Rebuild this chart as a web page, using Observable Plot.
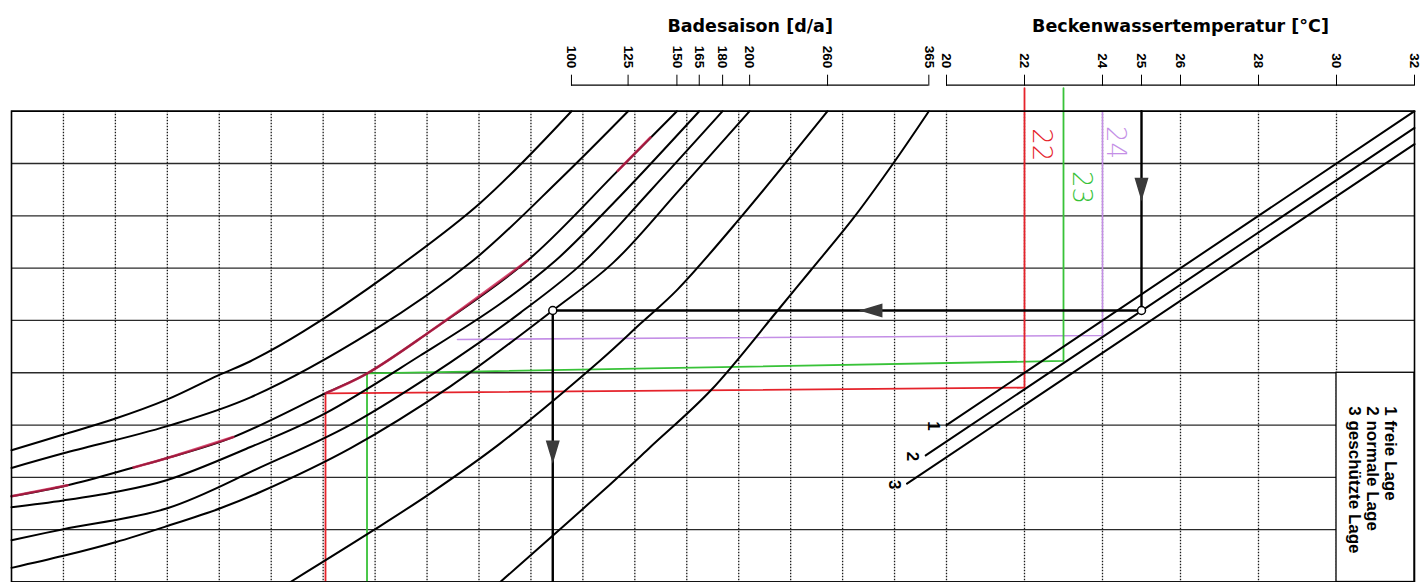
<!DOCTYPE html>
<html>
<head>
<meta charset="utf-8">
<script src="https://cdn.jsdelivr.net/npm/d3@7"></script>
<script src="https://cdn.jsdelivr.net/npm/@observablehq/plot@0.6"></script>
<style>
  html, body { margin: 0; padding: 0; background: #fff; }
  #chart svg { display: block; }
</style>
</head>
<body>
<div id="chart"></div>
<script>
// ---------------- data ----------------
// x: left part in grid units (2..20), right part in °C (20..32); y: grid units 0..9
const seasonDays = [100, 125, 150, 165, 180, 200, 260, 365];

const curve100 = [[2,2.52],[3,2.82],[3.96,3.11],[5,3.49],[5.98,3.95],[6.6,4.22],[7.62,4.79],[9.3,5.92],[11.03,7.25],[12.78,9]];
const curve125 = [[2,2.18],[3,2.46],[5,2.98],[6.6,3.53],[8.97,4.81],[10.88,6.14],[12.57,7.71],[13.87,9]];
const curve150 = [[2,1.64],[3.08,1.85],[4.35,2.19],[5,2.37],[6.27,2.77],[8.05,3.61],[8.85,3.99],[10.03,4.77],[11.93,6.14],[13.67,7.86],[14.81,9]];
const curve165 = [[2,1.43],[3,1.56],[4,1.72],[5,1.95],[6.6,2.58],[8.03,3.22],[9.87,4.33],[11.41,5.32],[12.47,6.14],[13.72,7.38],[15.24,9]];
const curve180 = [[2,0.8],[3,1.01],[5,1.41],[6.79,2.19],[8.53,3.01],[10.45,4.2],[11.8,5.15],[13.01,6.11],[14.3,7.48],[15.69,9]];
const curve200 = [[2,0.27],[3,0.5],[4,0.76],[5,1.07],[6.02,1.41],[6.79,1.72],[8.53,2.56],[10.45,3.74],[12.42,5.19],[13.59,6.11],[14.88,7.52],[16.21,9]];
const curve260 = [[7.37,0],[8.97,0.99],[10.07,1.7],[11.41,2.65],[13.34,4.24],[14.11,4.94],[14.82,5.59],[16.03,6.96],[17.71,9]];
const curve365 = [[11.41,0],[13.34,1.7],[14.3,2.58],[15.46,3.66],[16.75,5.19],[17.38,5.95],[18.21,6.96],[18.98,8.01],[19.66,9]];

const tempTicks = [20, 22, 24, 25, 26, 28, 30, 32];
const gridLeft = [3,4,5,6,7,8,9,10,11,12,13,14,15,16,17,18,19,20];
const gridTemp = [22, 24, 26, 28, 30];
const gridY = [0,1,2,3,4,5,6,7,8,9];

// location lines 1..3 (start, end)
const locationIds = ["1", "2", "3"];
const location1 = [[20, 3.0], [32, 9.0]];
const location2 = [[19.6, 2.42], [32, 8.68]];
const location3 = [[19.24, 1.88], [32, 8.37]];
const legendLines = ["1 freie Lage", "2 normale Lage", "3 geschützte Lage"];
const legendBox = [{x1: 30, x2: 32, y1: 0, y2: 4}];

// reading example (black) and hand-drawn readings (22, 23, 24 °C)
const examplePath = [[25, 9], [25, 5.19], [12.42, 5.19], [12.42, 0]];
const exampleCircles = [[25, 5.19], [12.42, 5.19]];
const exampleArrows = [{x: 25, y: 7.52, dir: "down"}, {x: 18.56, y: 5.19, dir: "left"}, {x: 12.42, y: 2.5, dir: "down"}];
const path22 = [[22, 9.44], [22, 3.715], [8.045, 3.606], [8.045, 0]];
const path23 = [[23, 9.44], [23, 4.226], [8.844, 3.988], [8.844, 0]];
const path24 = [[24, 9], [24, 4.713], [10.586, 4.637]];
const handNotes = [{x: 22.44, y: 8.36, text: "22", c: "red"}, {x: 23.46, y: 7.54, text: "23", c: "green"}, {x: 24.33, y: 8.4, text: "24", c: "purple"}];
const highlight150 = [
  [[2,1.64],[3.08,1.85]],
  [[4.35,2.19],[5,2.37],[6.27,2.77]],
  [[8.05,3.61],[8.85,3.99],[10.03,4.77],[11.93,6.14]],
  [[13.67,7.86],[14.3,8.5]]
];

// ---------------- derived tables ----------------
const yDomain = [0, 9];
const seasonCurves = [curve100, curve125, curve150, curve165, curve180, curve200, curve260, curve365];
const curveRows = seasonDays.flatMap((days, i) => seasonCurves[i].map(([x, y]) => ({days, x, y})));
const seasonTickPos = seasonCurves.map(c => c[c.length - 1][0]);
const dayAt = new Map(seasonTickPos.map((p, i) => [p, seasonDays[i]]));
const locationRows = [location1, location2, location3].flatMap((pts, i) => pts.map(([x, y]) => ({id: locationIds[i], x, y})));
const locationStarts = [location1, location2, location3].map((pts, i) => ({id: locationIds[i], x: pts[0][0], y: pts[0][1]}));
const highlightRows = highlight150.flatMap((seg, i) => seg.map(([x, y]) => ({seg: i, x, y})));
const handColor = {red: "#e5232b", green: "#38c238", purple: "#c48fe6"};
const titles = [
  {text: "Badesaison [d/a]", x: (seasonTickPos[0] + seasonTickPos[seasonTickPos.length - 1]) / 2},
  {text: "Beckenwassertemperatur [°C]", x: (tempTicks[0] + tempTicks[tempTicks.length - 1]) / 2}
];
const baselines = [
  {a: seasonTickPos[0], b: seasonTickPos[seasonTickPos.length - 1]},
  {a: tempTicks[0], b: tempTicks[tempTicks.length - 1]}
];

const arrowHead = {
  draw(ctx, size) {
    const r = Math.sqrt(size / Math.PI);
    ctx.moveTo(0, r);
    ctx.lineTo(r * 0.6, -r);
    ctx.lineTo(-r * 0.6, -r);
    ctx.closePath();
  }
};
const px = d => d[0], py = d => d[1];
const axisStyle = {anchor: "top", label: null, tickSize: 11, tickPadding: 6, dy: -26, tickRotate: 90,
  textAnchor: "end", lineAnchor: "middle", fontSize: 13.5, fontWeight: "bold"};

const chart = Plot.plot({
  width: 1423,
  height: 582,
  marginTop: 110.7,
  marginBottom: 0.5,
  marginLeft: 11,
  marginRight: 9,
  x: {type: "linear", domain: [2, 20, 32], range: [11, 946, 1414], axis: null},
  y: {domain: yDomain, range: [581.5, 110.7], axis: null},
  style: {fontFamily: "'Liberation Sans', Arial, sans-serif", background: "#fff", color: "#000", overflow: "visible"},
  marks: [
    // grid
    Plot.ruleY(gridY, {stroke: "#2a2a2a", strokeWidth: 1.3}),
    Plot.ruleX([...gridLeft, ...gridTemp], {stroke: "#1a1a1a", strokeWidth: 1.3, strokeDasharray: "1.6,1.4"}),
    Plot.rect(legendBox, {x1: "x1", x2: "x2", y1: "y1", y2: "y2", fill: "#fff", stroke: "#000", strokeWidth: 1.3}),
    // hand-drawn readings
    Plot.line(path24, {x: px, y: py, stroke: handColor.purple, strokeWidth: 1.6}),
    Plot.line(path23, {x: px, y: py, stroke: handColor.green, strokeWidth: 1.8}),
    Plot.line(path22, {x: px, y: py, stroke: handColor.red, strokeWidth: 1.8}),
    // season curves
    Plot.line(curveRows, {x: "x", y: "y", z: "days", curve: "catmull-rom", stroke: "#000", strokeWidth: 2}),
    Plot.line(highlightRows, {x: "x", y: "y", z: "seg", curve: "catmull-rom", stroke: "#cc1f4e", strokeWidth: 2.6, strokeOpacity: 0.8}),
    // location lines
    Plot.line(locationRows, {x: "x", y: "y", z: "id", stroke: "#000", strokeWidth: 2}),
    Plot.text(locationStarts, {x: "x", y: "y", text: "id", dx: -13, dy: 1, rotate: 90, fontSize: 17, fontWeight: "bold"}),
    // worked example
    Plot.line(examplePath, {x: px, y: py, stroke: "#000", strokeWidth: 2.4}),
    Plot.dot(exampleArrows, {x: "x", y: "y", r: 10, symbol: arrowHead, rotate: d => d.dir === "left" ? 90 : 0, fill: "#3a3a3a", stroke: "#3a3a3a"}),
    Plot.dot(exampleCircles, {x: px, y: py, r: 4, fill: "#fff", stroke: "#000", strokeWidth: 1.5}),
    // frame
    Plot.frame({stroke: "#000", strokeWidth: 1.6}),
    // top scales
    Plot.ruleY(baselines, {x1: "a", x2: "b", y: () => yDomain[1], dy: -26, stroke: "#000", strokeWidth: 1.2}),
    Plot.axisX(seasonTickPos, {...axisStyle, tickFormat: p => dayAt.get(p)}),
    Plot.axisX(tempTicks, {...axisStyle, tickFormat: d => String(d)}),
    Plot.text(titles, {x: "x", text: "text", frameAnchor: "top", dy: -92, fontFamily: "'DejaVu Sans', sans-serif", fontWeight: "bold", fontSize: 17.5}),
    // legend
    Plot.text([legendLines.join("\n")], {text: d => d, frameAnchor: "top-right", dx: -17, dy: 295, rotate: 90,
      textAnchor: "start", lineAnchor: "top", fontSize: 17, fontWeight: "bold", lineHeight: 1.05}),
    // handwritten numbers
    Plot.text(handNotes, {x: "x", y: "y", text: "text", rotate: 90, fontSize: 26, fontWeight: 300,
      fontFamily: "'DejaVu Sans', sans-serif", fill: d => handColor[d.c]})
  ]
});
document.getElementById("chart").appendChild(chart);
</script>
</body>
</html>
